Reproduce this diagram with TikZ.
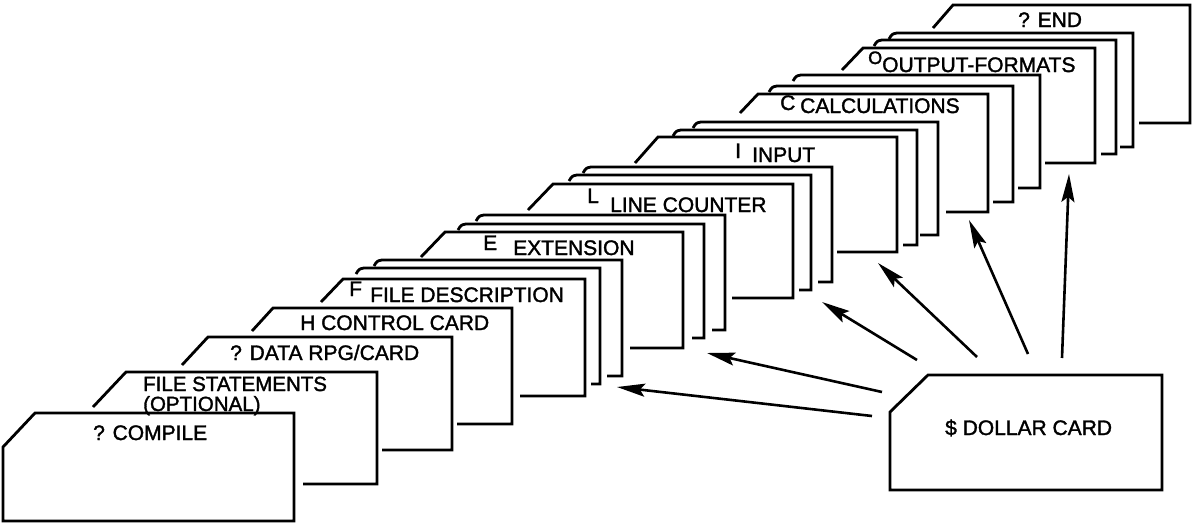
\documentclass[tikz,border=0pt]{standalone}
\usepackage{fontspec}
\setmainfont{Liberation Sans}
\newfontfamily\cardfont{Liberation Sans}[FakeBold=1.6]
\usetikzlibrary{arrows.meta}
\begin{document}
\begin{tikzpicture}[x=1pt,y=-1pt,
  card/.style={draw=black,line width=2.8pt,line join=miter},
  lbl/.style={anchor=base west,inner sep=0pt,font=\cardfont\fontsize{21}{21}\selectfont},
  ptr/.style={draw=black,line width=2.6pt,-{Stealth[length=28pt,width=13pt,inset=5pt]}}]
\useasboundingbox (0,0) rectangle (1192,523);
% front card
\draw[card] (3,447) -- (35,413) -- (294,413) -- (294,521) -- (3,521) -- cycle;
% named cards behind
\foreach \xa/\ya/\xd/\yt/\xr/\yb/\xb in {
  93/407/126/372/377/484/303,
  182/365/208/337/452/450/382,
  252/331/273/308/512/424/457,
  321/302/343/279/585/396/520,
  421/257/445/232/683/348/630,
  528/210/553/184/793/298/732,
  635/163/658/137/897/252/837,
  740/113/758/94/988/212/946,
  842/70/863/48/1095/163/1045,
  933/28/953/5/1190/123/1139}
  \draw[card] (\xa,\ya) -- (\xd,\yt) -- (\xr,\yt) -- (\xr,\yb) -- (\xb,\yb);
% thin cards
\foreach \xs/\yt/\xr/\yb/\xb in {
  360/268/600/384/591,
  378/260/622/376/607,
  462/224/704/338/692,
  480/215/725/330/712,
  573/175/811/290/799,
  587/167/832/282/818,
  677/130/917/245/903,
  697/122/938/235/920,
  773/86/1013/202/993,
  797/75/1040/188/1018,
  878/40/1116/154/1101,
  893/33/1133/147/1120}
  \draw[card] (\xs-4,\yt+6) .. controls (\xs-1,\yt+1) .. (\xs+4,\yt) -- (\xr,\yt) -- (\xr,\yb) -- (\xb,\yb);
% dollar card
\draw[card] (890,412) -- (928,375) -- (1162,375) -- (1162,490) -- (890,490) -- cycle;
% labels
\node[lbl,font=\cardfont\fontsize{20.5}{20}\selectfont] (tfile1) at (143,391) {FILE STATEMENTS};
\node[lbl,font=\cardfont\fontsize{20.5}{20}\selectfont] (tfile2) at (143,411) {(OPTIONAL)};
\node[lbl] (tcompile) at (93,440) {? COMPILE};
\node[lbl] (tdata) at (230,360) {? DATA RPG/CARD};
\node[lbl] (tctrl) at (300,330) {H CONTROL CARD};
\node[lbl] (tfk) at (349,296) {F};
\node[lbl] (tfdesc) at (370,302) {FILE DESCRIPTION};
\node[lbl] (tek) at (483,250) {E};
\node[lbl] (text) at (513,255) {EXTENSION};
\node[lbl] (tlk) at (587,203) {L};
\node[lbl] (tline) at (610,212) {LINE COUNTER};
\node[lbl] (tik) at (735,158) {I};
\node[lbl] (tinput) at (752,162) {INPUT};
\node[lbl] (tck) at (780,110) {C};
\node[lbl] (tcalc) at (800,113) {CALCULATIONS};
\node[lbl,font=\cardfont\fontsize{18}{18}\selectfont] (tok) at (868,64) {O};
\node[lbl] (tout) at (882,72) {OUTPUT-FORMATS};
\node[lbl] (tend) at (1018,27) {? END};
\node[lbl] (tdollar) at (945,435) {\$ DOLLAR CARD};
% arrow end points
\coordinate (s1) at (872,416); \coordinate (e1) at (617,387);
\coordinate (s2) at (882,392); \coordinate (e2) at (707,353);
\coordinate (s3) at (917,360); \coordinate (e3) at (822,302);
\coordinate (s4) at (977,357); \coordinate (e4) at (878,263);
\coordinate (s5) at (1028,354); \coordinate (e5) at (969,220);
\coordinate (s6) at (1062,358); \coordinate (e6) at (1069,174);
\foreach \k in {1,...,6} \draw[ptr] (s\k) -- (e\k);
\end{tikzpicture}
\end{document}
